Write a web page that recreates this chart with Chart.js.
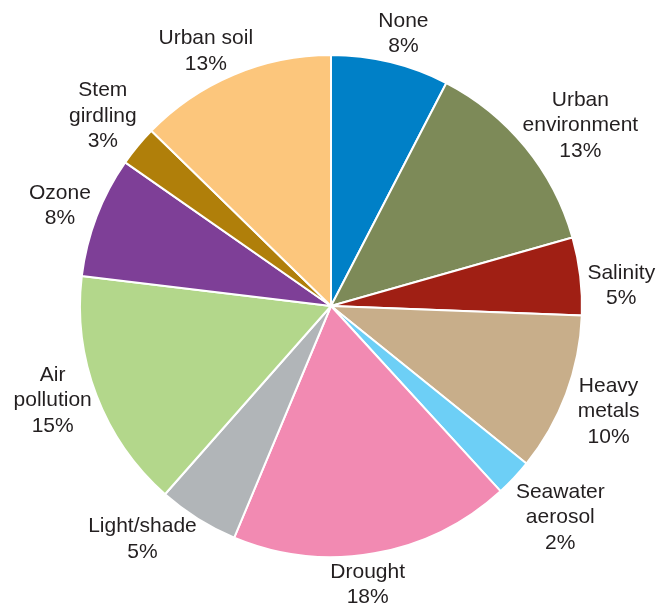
<!DOCTYPE html>
<html>
<head>
<meta charset="utf-8">
<script src="https://cdn.jsdelivr.net/npm/chart.js@4.4.1/dist/chart.umd.min.js"></script>
<style>
  html, body { margin: 0; padding: 0; background: #fff; }
  #wrap { width: 664px; height: 607px; position: relative; }
</style>
</head>
<body>
<div id="wrap"><canvas id="pieChart" width="664" height="607"></canvas></div>
<script>
// Data (share of trees, %, clockwise from 12 o'clock)
const categories = ['None', 'Urban\nenvironment', 'Salinity', 'Heavy\nmetals', 'Seawater\naerosol',
  'Drought', 'Light/shade', 'Air\npollution', 'Ozone', 'Stem\ngirdling', 'Urban soil'];
const shares = [7.6, 13.0, 5.0, 10.2, 2.4, 18.1, 5.2, 15.4, 7.8, 2.6, 12.7];
const colors = ['#0080c7', '#7d8a58', '#a01f14', '#c8ae8a', '#6dcff6', '#f28ab2',
  '#b1b5b8', '#b3d78b', '#7e3f97', '#b07f0a', '#fcc67c'];

// Label placement: [angle nudge in degrees, distance outside the rim in px]
const labelNudge = [[1.2, 31], [3.3, 57], [2.8, 40], [0.3, 46], [-0.5, 61], [2.4, 30],
  [6.9, 49], [2.1, 43], [-0.6, 38], [0.2, 46], [-3.3, 33]];

const TEXT_COLOR = '#231f20';
const FONT = '21px "Liberation Sans", Arial, sans-serif';
const LINE_H = 25.5;

// Outside labels: name lines + rounded percent
const outsideLabels = {
  id: 'outsideLabels',
  afterDatasetsDraw(chart) {
    const ctx = chart.ctx;
    const meta = chart.getDatasetMeta(0);
    ctx.save();
    ctx.font = FONT;
    ctx.fillStyle = TEXT_COLOR;
    ctx.textAlign = 'center';
    ctx.textBaseline = 'middle';
    meta.data.forEach((arc, i) => {
      const p = arc.getProps(['x', 'y', 'startAngle', 'endAngle', 'outerRadius'], true);
      const mid = (p.startAngle + p.endAngle) / 2 + labelNudge[i][0] * Math.PI / 180;
      const r = p.outerRadius + labelNudge[i][1];
      const cx = p.x + Math.cos(mid) * r;
      const cy = p.y + Math.sin(mid) * r;
      const lines = categories[i].split('\n').concat([Math.round(shares[i]) + '%']);
      const top = cy - (lines.length - 1) * LINE_H / 2;
      lines.forEach((t, k) => ctx.fillText(t, cx, top + k * LINE_H));
    });
    ctx.restore();
  }
};

new Chart(document.getElementById('pieChart').getContext('2d'), {
  type: 'pie',
  data: {
    labels: categories,
    datasets: [{
      data: shares,
      backgroundColor: colors,
      borderColor: '#ffffff',
      borderWidth: 2
    }]
  },
  options: {
    responsive: false,
    animation: false,
    layout: { padding: { left: 79, right: 81, top: 54, bottom: 49 } },
    plugins: {
      legend: { display: false },
      tooltip: { enabled: false }
    }
  },
  plugins: [outsideLabels]
});
</script>
</body>
</html>
